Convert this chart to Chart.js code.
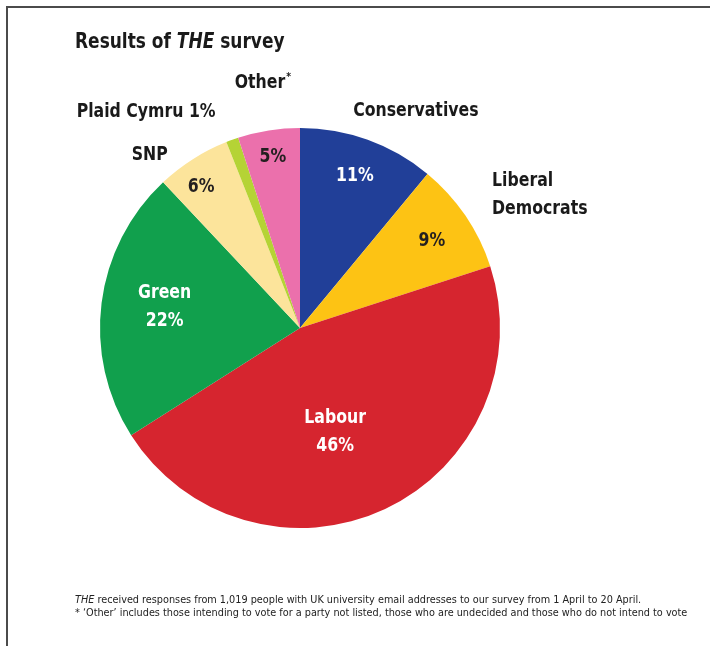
<!DOCTYPE html>
<html>
<head>
<meta charset="utf-8">
<script src="https://cdn.jsdelivr.net/npm/chart.js@4.4.1/dist/chart.umd.min.js"></script>
<style>
  body { margin: 0; background: #fff; }
  #wrap { position: relative; width: 710px; height: 646px; overflow: hidden; }
  #frame { position: absolute; left: 6px; top: 6px; width: 710px; height: 646px;
           border-top: 2px solid #4b4b4b; border-left: 2px solid #4b4b4b; }
  #title { position: absolute; left: 75px; top: 29px; font: bold 21px "Liberation Sans Narrow", "DejaVu Sans Condensed", sans-serif;
           color: #1a1a1a; transform: scaleX(0.9); transform-origin: left top; white-space: nowrap; }
  #note { position: absolute; left: 75px; top: 593px; font: 11px "Liberation Sans Narrow", "DejaVu Sans Condensed", sans-serif;
          color: #222; line-height: 13px; white-space: nowrap; transform: scaleX(0.98); transform-origin: left top; }
  canvas { position: absolute; left: 0; top: 0; }
</style>
</head>
<body>
<div id="wrap">
  <div id="frame"></div>
  <canvas id="pie" width="710" height="646"></canvas>
  <div id="title">Results of <i>THE</i> survey</div>
  <div id="note"><i>THE</i> received responses from 1,019 people with UK university email addresses to our survey from 1 April to 20 April.<br>* ‘Other’ includes those intending to vote for a party not listed, those who are undecided and those who do not intend to vote</div>
</div>
<script>
const parties = ['Conservatives', 'Liberal Democrats', 'Labour', 'Green', 'SNP', 'Plaid Cymru', 'Other'];
const shares = [11, 9, 46, 22, 6, 1, 5];
const colours = ['#213f98', '#fdc314', '#d6252f', '#11a04d', '#fce49b', '#b5d335', '#eb70ac'];

// text placed by each slice: inside text, outside text
const innerText = [['11%'], ['9%'], ['Labour', '46%'], ['Green', '22%'], ['6%'], [], ['5%']];
const outerText = [['Conservatives'], ['Liberal', 'Democrats'], [], [], ['SNP'], ['Plaid Cymru 1%'], ['Other']];

// label placement: angle offset from slice middle (deg), radius factor, colour, align
const innerPos = [
  { da: 0, r: 0.81, color: '#fff' },
  { da: 0.8, r: 0.79, color: '#231f20' },
  { da: 6.6, r: 0.55, color: '#fff' },
  { da: 1.6, r: 0.685, color: '#fff' },
  { da: -2.7, r: 0.86, color: '#231f20' },
  null,
  { da: 0, r: 0.865, color: '#231f20' }
];
const outerPos = [
  { da: 8.3, r: 1.23, align: 'center' },
  { da: -0.5, r: 1.168, align: 'left' },
  null, null,
  { da: -8.5, r: 1.147, align: 'center' },
  { da: -15.7, r: 1.325, align: 'center' },
  { da: 0.4, r: 1.239, align: 'center', sup: '*' }
];

const FONT = '"Liberation Sans Narrow", "DejaVu Sans Condensed", sans-serif';
const SQUEEZE = 0.92;

function drawText(ctx, t, x, y, align) {
  ctx.save();
  ctx.translate(x, y);
  ctx.scale(SQUEEZE, 1);
  ctx.textAlign = align;
  ctx.fillText(t, 0, 0);
  ctx.restore();
}

const sliceLabels = {
  id: 'sliceLabels',
  afterDatasetsDraw(chart) {
    const ctx = chart.ctx;
    const arcs = chart.getDatasetMeta(0).data;
    ctx.save();
    ctx.textBaseline = 'middle';
    arcs.forEach((arc, i) => {
      const p = arc.getProps(['x', 'y', 'startAngle', 'endAngle', 'outerRadius']);
      const mid = (p.startAngle + p.endAngle) / 2;
      const place = (pos) => {
        const a = mid + pos.da * Math.PI / 180;
        return [p.x + Math.cos(a) * p.outerRadius * pos.r, p.y + Math.sin(a) * p.outerRadius * pos.r];
      };
      const lineH = 28;
      if (innerPos[i]) {
        const [cx, cy] = place(innerPos[i]);
        const lines = innerText[i];
        ctx.font = 'bold 19px ' + FONT;
        ctx.fillStyle = innerPos[i].color;
        lines.forEach((t, k) => drawText(ctx, t, cx, cy + (k - (lines.length - 1) / 2) * lineH, 'center'));
      }
      if (outerPos[i]) {
        const pos = outerPos[i];
        const [cx, cy] = place(pos);
        const lines = outerText[i];
        ctx.font = 'bold 19px ' + FONT;
        ctx.fillStyle = '#1a1a1a';
        lines.forEach((t, k) => {
          const y = cy + (k - (lines.length - 1) / 2) * lineH;
          if (pos.sup) {
            const w = ctx.measureText(t).width * SQUEEZE;
            const sw = 6;
            const left = cx - (w + sw) / 2;
            drawText(ctx, t, left, y, 'left');
            ctx.font = 'bold 11px ' + FONT;
            drawText(ctx, pos.sup, left + w + 1, y - 6, 'left');
          } else {
            drawText(ctx, t, cx, y, pos.align);
          }
        });
      }
    });
    ctx.restore();
  }
};

new Chart(document.getElementById('pie'), {
  type: 'pie',
  data: {
    labels: parties,
    datasets: [{
      data: shares,
      backgroundColor: colours,
      borderWidth: 0
    }]
  },
  options: {
    responsive: false,
    animation: false,
    layout: { padding: { left: 100, right: 210, top: 128, bottom: 118 } },
    plugins: {
      legend: { display: false },
      tooltip: { enabled: false }
    }
  },
  plugins: [sliceLabels]
});
</script>
</body>
</html>
